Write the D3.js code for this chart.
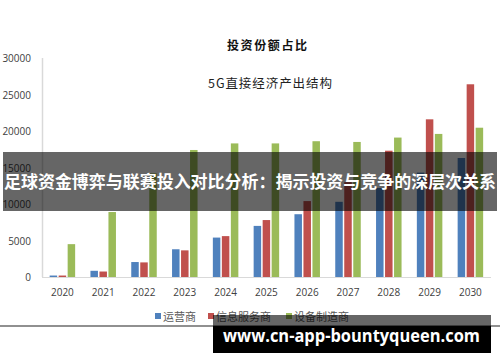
<!DOCTYPE html>
<html><head><meta charset="utf-8">
<script src="https://cdn.jsdelivr.net/npm/d3@7"></script>
<style>html,body{margin:0;padding:0;background:#fff;}svg{display:block;}</style>
</head><body>
<script>
const years = ["2020","2021","2022","2023","2024","2025","2026","2027","2028","2029","2030"];
const seriesNames = ["运营商","信息服务商","设备制造商"];
const operators = [200, 850, 2050, 3800, 5400, 7000, 8600, 10300, 12200, 14300, 16300];
const infoServices = [200, 750, 2000, 3650, 5600, 7800, 10400, 13000, 17300, 21600, 26400];
const equipment = [4500, 8900, 14200, 17400, 18300, 18300, 18600, 18500, 19100, 19600, 20450];
const yTicks = [0, 5000, 10000, 15000, 20000, 25000, 30000];
const colors = ["#4F81BD", "#C0504D", "#9BBB59"];
const title = "投资份额占比";
const subtitle = "5G直接经济产出结构";
const banner = "足球资金博弈与联赛投入对比分析：揭示投资与竞争的深层次关系";
const watermark = "www.cn-app-bountyqueen.com";

const W = 500, H = 362;
const svg = d3.select("body").append("svg").attr("width", W).attr("height", H);
svg.append("rect").attr("width", W).attr("height", H).attr("fill", "#fff");

const x = d3.scaleBand().domain(years).range([42, 490.8]);
const x1 = d3.scaleBand().domain(seriesNames).range([-12.75, 12.75]).paddingInner(0.167);
const y = d3.scaleLinear().domain([0, 30000]).range([277, 58]);

// titles
svg.append("text").attr("x", 267).attr("y", 50).attr("text-anchor", "middle")
  .attr("font-family", "Noto Sans CJK SC").attr("font-weight", "bold").attr("font-size", 12)
  .attr("textLength", 80).attr("lengthAdjust", "spacing").attr("fill", "#111").text(title);
svg.append("text").attr("x", 270).attr("y", 88).attr("text-anchor", "middle")
  .attr("font-family", "Noto Sans CJK SC").attr("font-size", 12.5)
  .attr("textLength", 124).attr("lengthAdjust", "spacing").attr("fill", "#222").text(subtitle);

// axes lines
svg.append("line").attr("x1", 42.5).attr("x2", 42.5).attr("y1", y(30000)).attr("y2", y(0))
  .attr("stroke", "#d9d9d9").attr("stroke-width", 1.5);

// y tick labels
const yAxis = d3.axisLeft(y).tickValues(yTicks).tickSize(0).tickPadding(0).tickFormat(d3.format("d"));
const gy = svg.append("g").attr("transform", "translate(31,0)").call(yAxis);
gy.select(".domain").remove();
gy.selectAll("text").attr("font-family", "Open Sans").attr("font-size", 10).attr("fill", "#404040").attr("dy", "0.35em");

// bars
const data = [operators, infoServices, equipment];
years.forEach((yr, i) => {
  const g = svg.append("g").attr("transform", `translate(${x(yr) + x.bandwidth() / 2},0)`);
  seriesNames.forEach((s, k) => {
    const v = data[k][i];
    g.append("rect").attr("x", x1(s)).attr("width", x1.bandwidth())
      .attr("y", y(v)).attr("height", y(0) - y(v)).attr("fill", colors[k]);
  });
});

svg.append("line").attr("x1", 42).attr("x2", 491).attr("y1", 277.5).attr("y2", 277.5)
  .attr("stroke", "#d9d9d9").attr("stroke-width", 1.2);

// x labels
const xAxis = d3.axisBottom(x).tickSize(0).tickPadding(0);
const gx = svg.append("g").attr("transform", "translate(0,292)").call(xAxis);
gx.select(".domain").remove();
gx.selectAll("text").attr("font-family", "Open Sans").attr("font-size", 10).attr("fill", "#404040").attr("dy", "0.35em");

// legend
const legendX = [155, 208, 286];
seriesNames.forEach((s, k) => {
  svg.append("rect").attr("x", legendX[k]).attr("y", 313).attr("width", 6).attr("height", 6).attr("fill", colors[k]);
  svg.append("text").attr("x", legendX[k] + 8).attr("y", 320.5)
    .attr("font-family", "Noto Sans CJK SC").attr("font-size", 11).attr("fill", "#595959").text(s);
});

// bottom border line
svg.append("line").attr("x1", 0).attr("x2", W).attr("y1", 326).attr("y2", 326).attr("stroke", "#222").attr("stroke-width", 1.2);

// banner
svg.append("rect").attr("x", 3).attr("y", 152).attr("width", 494).attr("height", 59).attr("fill", "rgba(0,0,0,0.6)");
svg.append("text").attr("x", 4).attr("y", 188)
  .attr("font-family", "Noto Sans CJK SC").attr("font-weight", "bold").attr("font-size", 17)
  .attr("textLength", 492).attr("lengthAdjust", "spacingAndGlyphs").attr("fill", "#fff").text(banner);

// watermark
svg.append("rect").attr("x", 213).attr("y", 315).attr("width", 278).attr("height", 11).attr("fill", "rgba(0,0,0,0.6)");
svg.append("rect").attr("x", 213).attr("y", 326).attr("width", 278).attr("height", 27).attr("fill", "#000");
svg.append("text").attr("x", 223).attr("y", 342)
  .attr("font-family", "Open Sans").attr("font-weight", "bold").attr("font-size", 17)
  .attr("textLength", 257).attr("lengthAdjust", "spacingAndGlyphs").attr("fill", "#fff").text(watermark);
</script>
</body></html>
